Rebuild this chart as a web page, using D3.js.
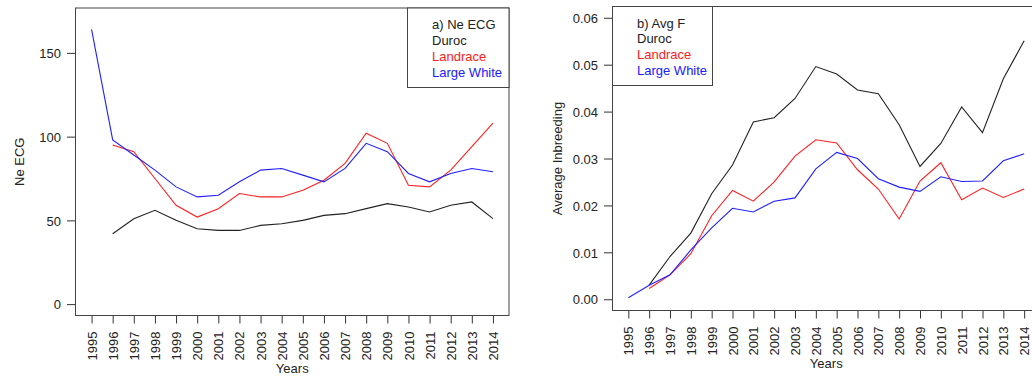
<!DOCTYPE html>
<html>
<head>
<meta charset="utf-8">
<script src="https://cdn.jsdelivr.net/npm/d3@7"></script>
<style>
  html, body { margin: 0; padding: 0; background: #fff; }
  svg text { font-family: "Liberation Sans", Arial, sans-serif; font-size: 13px; fill: #222; }
</style>
</head>
<body>
<div id="chart"></div>
<script>
const years = d3.range(1995, 2015);
const breeds = ['Duroc', 'Landrace', 'Large White'];
const breedColors = ['#222', '#ff2020', '#2020ff'];

// a) effective population size (ECG)
const neDuroc = [null, 42, 51, 56, 50, 45, 44, 44, 47, 48, 50, 53, 54, 57, 60, 58, 55, 59, 61, 51];
const neLandrace = [null, 95, 91, 75, 59, 52, 57, 66, 64, 64, 68, 74, 84, 102, 96, 71, 70, 80, 94, 108];
const neLargeWhite = [164, 98, 89, 80, 70, 64, 65, 73, 80, 81, 77, 73, 81, 96, 91, 78, 73, 78, 81, 79];
const neTicks = [0, 50, 100, 150];

// b) average inbreeding
const fDuroc = [null, 0.0030, 0.0091, 0.0141, 0.0225, 0.0286, 0.0378, 0.0387, 0.0428, 0.0496, 0.0480, 0.0446, 0.0438, 0.0372, 0.0283, 0.0332, 0.0410, 0.0355, 0.0470, 0.0551];
const fLandrace = [null, 0.0023, 0.0052, 0.0097, 0.0178, 0.0232, 0.0209, 0.0250, 0.0305, 0.0340, 0.0333, 0.0276, 0.0235, 0.0171, 0.0252, 0.0291, 0.0212, 0.0237, 0.0217, 0.0235];
const fLargeWhite = [0.0003, 0.0030, 0.0052, 0.0105, 0.0152, 0.0194, 0.0186, 0.0209, 0.0216, 0.0278, 0.0313, 0.0300, 0.0257, 0.0239, 0.0230, 0.0261, 0.0251, 0.0252, 0.0295, 0.0310];
const fTicks = [0, 0.01, 0.02, 0.03, 0.04, 0.05, 0.06];

const svg = d3.select('#chart').append('svg').attr('width', 1032).attr('height', 378);

function panel(p) {
  const pad = (years[years.length - 1] - years[0]) * 0.04;
  const x = d3.scaleLinear().domain([years[0] - pad, years[years.length - 1] + pad]).range([p.l, p.r]);
  const ypad = (p.ylim[1] - p.ylim[0]) * 0.04;
  const y = d3.scaleLinear().domain([p.ylim[0] - ypad, p.ylim[1] + ypad]).range([p.b, p.t]);
  const g = svg.append('g');

  const xa = g.append('g').attr('transform', `translate(0,${p.b})`)
    .call(d3.axisBottom(x).tickValues(years).tickFormat(d3.format('d')).tickSize(8).tickSizeOuter(0));
  xa.select('.domain').remove();
  xa.selectAll('line').attr('stroke', '#333');
  xa.selectAll('text')
    .attr('transform', 'rotate(-90)')
    .attr('x', -16).attr('y', 0).attr('dy', '0.35em')
    .attr('text-anchor', 'end');

  const ya = g.append('g').attr('transform', `translate(${p.l},0)`)
    .call(d3.axisLeft(y).tickValues(p.ticks).tickFormat(p.fmt).tickSize(8.5).tickPadding(6).tickSizeOuter(0));
  ya.select('.domain').remove();
  ya.selectAll('line').attr('stroke', '#333');
  ya.selectAll('text').attr('dy', '0.36em');

  g.append('rect')
    .attr('x', p.l).attr('y', p.t).attr('width', p.r - p.l).attr('height', p.b - p.t)
    .attr('fill', 'none').attr('stroke', '#444').attr('stroke-width', 1);

  const line = d3.line().defined(d => d != null).x((d, i) => x(years[i])).y(d => y(d));
  p.series.forEach((s, i) => {
    g.append('path').datum(s).attr('d', line)
      .attr('fill', 'none').attr('stroke', breedColors[i]).attr('stroke-width', 1.1);
  });

  g.append('text').attr('x', (p.l + p.r) / 2).attr('y', p.xlabY)
    .attr('text-anchor', 'middle').text('Years');
  g.append('text')
    .attr('transform', `translate(${p.ylabX},${(p.t + p.b) / 2}) rotate(-90)`)
    .attr('text-anchor', 'middle').attr('dy', '0.35em').text(p.ylab);

  const lg = p.legend;
  g.append('rect').attr('x', lg.x).attr('y', p.t).attr('width', lg.w).attr('height', lg.h)
    .attr('fill', '#fff').attr('stroke', '#444').attr('stroke-width', 1);
  const entries = [p.title].concat(breeds);
  entries.forEach((t, i) => {
    g.append('text').attr('x', lg.x + 24.5).attr('y', p.t + 21 + i * 15.9)
      .style('fill', i === 0 ? '#222' : breedColors[i - 1]).text(t);
  });
}

panel({
  l: 75.5, r: 509, t: 8, b: 315.5,
  ylim: [0, 170], ticks: neTicks, fmt: d3.format('d'),
  series: [neDuroc, neLandrace, neLargeWhite],
  ylab: 'Ne ECG', ylabX: 19.5, xlabY: 373,
  title: 'a) Ne ECG', legend: { x: 407.5, w: 101.5, h: 79.5 }
});

panel({
  l: 612.5, r: 1040, t: 6.5, b: 310.5,
  ylim: [0, 0.06], ticks: fTicks, fmt: d3.format('.2f'),
  series: [fDuroc, fLandrace, fLargeWhite],
  ylab: 'Average Inbreeding', ylabX: 557.5, xlabY: 368,
  title: 'b) Avg F', legend: { x: 612.5, w: 100, h: 79 }
});
</script>
</body>
</html>
